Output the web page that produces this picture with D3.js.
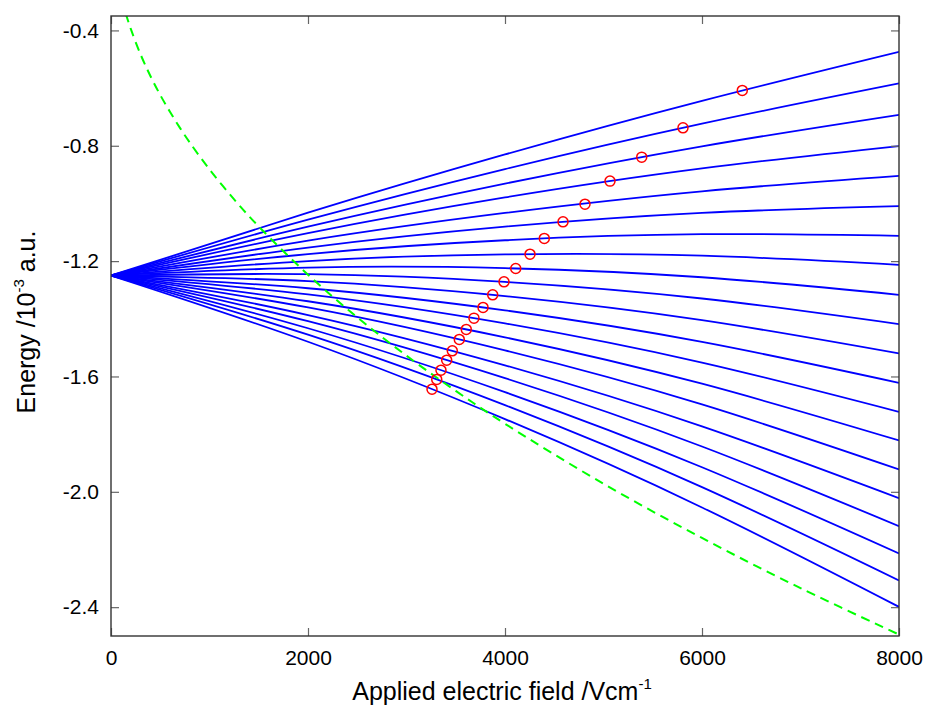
<!DOCTYPE html>
<html>
<head>
<meta charset="utf-8">
<script src="https://cdn.jsdelivr.net/npm/d3@7"></script>
<style>
  html, body { margin: 0; padding: 0; background: #fff; }
  svg text { font-family: "Liberation Sans", Arial, sans-serif; fill: #000; }
</style>
</head>
<body>
<svg id="chart" width="927" height="709"></svg>
<script>
// ---- data ----
const fieldX = [0, 2000, 4000, 6000, 8000];
const levels = [
  [-1.25, -1.0321, -0.8301, -0.6442, -0.4742],
  [-1.25, -1.0565, -0.8809, -0.7234, -0.5838],
  [-1.25, -1.0806, -0.9313, -0.8020, -0.6927],
  [-1.25, -1.1029, -0.9791, -0.8785, -0.8012],
  [-1.25, -1.1290, -1.0330, -0.9580, -0.9042],
  [-1.25, -1.1529, -1.0804, -1.0326, -1.0093],
  [-1.25, -1.1754, -1.1276, -1.1066, -1.1123],
  [-1.25, -1.1997, -1.1768, -1.1812, -1.2129],
  [-1.25, -1.2225, -1.2244, -1.2559, -1.3169],
  [-1.25, -1.2454, -1.2720, -1.3297, -1.4185],
  [-1.25, -1.2695, -1.3211, -1.4046, -1.5202],
  [-1.25, -1.2941, -1.3708, -1.4801, -1.6221],
  [-1.25, -1.3153, -1.4159, -1.5517, -1.7227],
  [-1.25, -1.3392, -1.4643, -1.6252, -1.8219],
  [-1.25, -1.3606, -1.5096, -1.6969, -1.9225],
  [-1.25, -1.3870, -1.5614, -1.7730, -2.0220],
  [-1.25, -1.4084, -1.6060, -1.8429, -2.1191],
  [-1.25, -1.4328, -1.6544, -1.9147, -2.2138],
  [-1.25, -1.4550, -1.6995, -1.9837, -2.3074],
  [-1.25, -1.4797, -1.7478, -2.0542, -2.3990]
];
const circleX = [6409, 5807, 5388, 5066, 4812, 4589, 4399, 4254, 4109, 3990,
                 3875, 3777, 3685, 3607, 3536, 3465, 3408, 3350, 3307, 3259];
const circleY = [-0.6081, -0.7378, -0.8394, -0.9226, -1.0024, -1.0638, -1.1213, -1.1758, -1.2254, -1.2718,
                 -1.3169, -1.3606, -1.3977, -1.4369, -1.4716, -1.5111, -1.5434, -1.5781, -1.6103, -1.6440];
const limitX = [150, 200, 300, 400, 500, 600, 700, 800, 1000, 1250, 1500, 2000, 2500, 3000, 3500, 4000, 5000, 6000, 7000, 8000];
const limitY = [-0.342, -0.394, -0.483, -0.558, -0.624, -0.683, -0.738, -0.789, -0.882, -0.986, -1.080, -1.247,
                -1.395, -1.528, -1.650, -1.764, -1.972, -2.160, -2.334, -2.495];
const xTicks = [0, 2000, 4000, 6000, 8000];
const yTicks = [-0.4, -0.8, -1.2, -1.6, -2.0, -2.4];

// ---- layout ----
const L = 111, R = 899, T = 16, B = 636;
const svg = d3.select("#chart");
const x = d3.scaleLinear().domain([0, 8000]).range([L, R]);
const y = d3.scaleLinear().domain([-2.5, -0.35]).range([B, T]);

svg.append("defs").append("clipPath").attr("id", "clip")
  .append("rect").attr("x", L).attr("y", T).attr("width", R - L).attr("height", B - T);

const plot = svg.append("g").attr("clip-path", "url(#clip)");

const line = d3.line().x(d => x(d[0])).y(d => y(d[1])).curve(d3.curveNatural);

levels.forEach(vals => {
  plot.append("path")
    .attr("d", line(fieldX.map((fx, i) => [fx, vals[i]])))
    .attr("fill", "none").attr("stroke", "#0000ff").attr("stroke-width", 1.8);
});

plot.append("path")
  .attr("d", d3.line().x(d => x(d[0])).y(d => y(d[1])).curve(d3.curveCatmullRom)(limitX.map((v, i) => [v, limitY[i]])))
  .attr("fill", "none").attr("stroke", "#00ff00").attr("stroke-width", 2)
  .attr("stroke-dasharray", "9,6");

plot.selectAll("circle.pt").data(circleX.map((v, i) => [v, circleY[i]])).enter()
  .append("circle").attr("class", "pt")
  .attr("cx", d => x(d[0])).attr("cy", d => y(d[1])).attr("r", 5)
  .attr("fill", "none").attr("stroke", "#ff0000").attr("stroke-width", 1.5);

// ---- axes (MATLAB-like box with inward ticks) ----
const tickLen = 8;
const yFmt = d => d.toFixed(1).replace("\u2212", "-");
const axG = svg.append("g");
axG.append("g").attr("transform", `translate(0,${B})`)
  .call(d3.axisBottom(x).tickValues(xTicks).tickSizeInner(-tickLen).tickSizeOuter(0).tickPadding(14).tickFormat(d => String(d)))
  .call(g => g.select(".domain").remove());
axG.append("g").attr("transform", `translate(0,${T})`)
  .call(d3.axisTop(x).tickValues(xTicks).tickSizeInner(-tickLen).tickSizeOuter(0).tickFormat(""))
  .call(g => g.select(".domain").remove());
axG.append("g").attr("transform", `translate(${L},0)`)
  .call(d3.axisLeft(y).tickValues(yTicks).tickSizeInner(-tickLen).tickSizeOuter(0).tickPadding(12).tickFormat(yFmt))
  .call(g => g.select(".domain").remove());
axG.append("g").attr("transform", `translate(${R},0)`)
  .call(d3.axisRight(y).tickValues(yTicks).tickSizeInner(-tickLen).tickSizeOuter(0).tickFormat(""))
  .call(g => g.select(".domain").remove());
axG.selectAll(".tick line").attr("stroke", "#666").attr("stroke-width", 1.2);
axG.selectAll(".tick text").attr("font-size", 21).attr("font-family", "Liberation Sans, Arial, sans-serif").attr("fill", "#000");

svg.append("rect").attr("x", L).attr("y", T).attr("width", R - L).attr("height", B - T)
  .attr("fill", "none").attr("stroke", "#333").attr("stroke-width", 1.4);

// ---- axis titles ----
const xt = svg.append("text").attr("x", 502).attr("y", 700).attr("text-anchor", "middle").attr("font-size", 25);
xt.append("tspan").text("Applied electric field /Vcm");
xt.append("tspan").attr("font-size", 15).attr("dy", -11).text("-1");

const yt = svg.append("text").attr("transform", "translate(35,322) rotate(-90)").attr("text-anchor", "middle").attr("font-size", 25);
yt.append("tspan").text("Energy /10");
yt.append("tspan").attr("font-size", 15).attr("dy", -11).text("-3");
yt.append("tspan").attr("dy", 11).text(" a.u.");
</script>
</body>
</html>
